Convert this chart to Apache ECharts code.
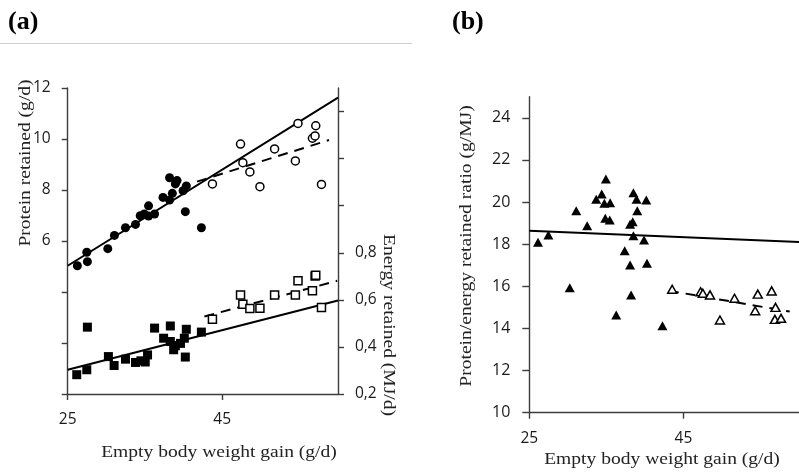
<!DOCTYPE html>
<html>
<head>
<meta charset="utf-8">
<script src="https://cdn.jsdelivr.net/npm/echarts@6/dist/echarts.min.js"></script>
<style>html,body{margin:0;padding:0;background:#fff;}#c{width:799px;height:473px;}</style>
</head>
<body>
<div id="c"></div>
<script>
// ---- Panel (a): protein retained (g/d), left axis ----
const proteinGroup1 = [[26.25,5.03],[27.47,5.56],[27.55,5.19],[30.19,5.70],[31.05,6.22],[32.48,6.52],[33.78,6.65],[34.39,6.99],[34.91,7.06],[35.47,7.38],[35.47,6.98],[36.25,7.06],[37.34,7.71],[38.19,8.48],[38.19,7.61],[38.55,7.87],[38.94,8.24],[39.16,8.37],[39.94,7.97],[40.36,8.16],[40.23,7.15],[42.31,6.52]];
const proteinGroup2 = [[43.74,8.24],[47.38,9.80],[47.68,9.07],[48.59,8.71],[49.89,8.13],[51.79,9.61],[54.48,9.14],[54.82,10.61],[56.69,10.03],[57.03,10.12],[57.12,10.52],[57.86,8.22]];
const proteinFitAll = [[25,5.03],[60,11.62]];
const proteinFitGroup2 = [[41.75,8.33],[58.84,9.96]];
// ---- Panel (a): energy retained (MJ/d), right axis ----
const energyGroup1 = [[26.17,0.282],[27.47,0.303],[27.55,0.484],[30.27,0.359],[31.01,0.321],[32.48,0.348],[33.78,0.334],[34.48,0.341],[35.04,0.336],[35.34,0.366],[36.25,0.480],[37.42,0.437],[38.29,0.489],[38.29,0.423],[38.72,0.388],[38.94,0.405],[39.6,0.415],[40.1,0.437],[40.36,0.475],[40.23,0.357],[42.31,0.463]];
const energyGroup2 = [[43.74,0.518],[47.38,0.621],[47.68,0.581],[48.59,0.563],[49.89,0.564],[51.79,0.621],[54.48,0.621],[54.82,0.681],[56.69,0.639],[57.03,0.701],[57.12,0.705],[57.86,0.567]];
const energyFitAll = [[25,0.303],[60,0.597]];
const energyFitGroup2 = [[42.7,0.529],[59.9,0.681]];
// ---- Panel (b): protein/energy retained ratio (g/MJ) ----
const ratioGroup1 = [[26.13,18.09],[27.48,18.43],[31.09,19.59],[32.51,18.88],[33.68,20.13],[34.4,20.38],[34.94,21.09],[34.74,19.94],[35.49,19.97],[34.86,19.23],[35.44,19.15],[38.51,20.44],[38.92,20.13],[40.18,20.1],[39.01,19.59],[38.42,19.07],[38.08,18.94],[38.51,18.40],[39.89,18.20],[37.38,17.69],[38.08,17.01],[40.27,17.09],[30.25,15.93],[36.28,14.64],[38.21,15.59],[42.28,14.13]];
const ratioGroup2 = [[43.54,15.86],[47.23,15.74],[47.52,15.67],[48.45,15.59],[51.63,15.43],[49.74,14.40],[54.31,14.84],[54.65,15.63],[56.45,15.78],[56.95,15.0],[56.87,14.43],[57.67,14.48]];
const ratioFitAll = [[25,18.64],[60,18.10]];
const ratioFitGroup2 = [[43.11,15.79],[58.8,14.80]];
// ---- Ticks and labels ----
const xTicks = [25,45];
const proteinTicks = [0,2,4,6,8,10,12];
const proteinLabels = [6,8,10,12];
const energyTicks = [0.2,0.4,0.6,0.8,1.0,1.2,1.4];
const energyLabels = [0.2,0.4,0.6,0.8];
const ratioTicks = [10,12,14,16,18,20,22,24];

const AX = '#3c3c3c';
const NUMFONT = 'Open Sans';
const TITLEFONT = '17px "Liberation Serif"';
const SX = 1.15;

function xAxisCfg(grid, margin){
  return {type:'value', gridIndex:grid, min:25, max:60,
    axisLine:{show:true, lineStyle:{color:AX, width:1.4}},
    axisTick:{show:true, length:6, customValues:xTicks, lineStyle:{color:AX, width:1.4}},
    axisLabel:{customValues:xTicks, margin:margin, fontFamily:NUMFONT, fontSize:15.5, color:'#1a1a1a'},
    splitLine:{show:false}};
}

const chart = echarts.init(document.getElementById('c'), null, {renderer:'canvas'});
const line = (data, x, y, dashed) => ({type:'line', xAxisIndex:x, yAxisIndex:y, data:data, symbol:'none', silent:true, z:3,
  lineStyle:{color:'#000', width:2, type: dashed ? [10,7] : 'solid'}});
const pts = (data, x, y, symbol, size, filled) => ({type:'scatter', xAxisIndex:x, yAxisIndex:y, data:data, symbol:symbol, symbolSize:size, z:4,
  itemStyle: filled ? {color:'#000', opacity:1} : {color:'#fff', borderColor:'#000', borderWidth:1.5, opacity:1}});
const title = (text, x, y, rot) => ({type:'text', x:x, y:y, rotation:rot, scaleX:SX,
  style:{text:text, font:TITLEFONT, fill:'#222', align:'center', verticalAlign:'middle'}});

chart.setOption({
  animation:false,
  backgroundColor:'#fff',
  grid:[
    {left:67.7, top:88, width:270.3, height:306},
    {left:529.3, top:96.7, width:278.3, height:316}
  ],
  xAxis:[ xAxisCfg(0,18), xAxisCfg(1,18) ],
  yAxis:[
    {type:'value', gridIndex:0, position:'left', min:0, max:12,
      axisLine:{show:true, lineStyle:{color:AX, width:1.4}},
      axisTick:{show:true, length:6, customValues:proteinTicks, lineStyle:{color:AX, width:1.4}},
      axisLabel:{customValues:proteinLabels, margin:17, fontFamily:NUMFONT, fontSize:15.5, color:'#1a1a1a'},
      splitLine:{show:false}},
    {type:'value', gridIndex:0, position:'right', min:0.2, max:1.5,
      axisLine:{show:true, lineStyle:{color:AX, width:1.4}},
      axisTick:{show:true, length:6, customValues:energyTicks, lineStyle:{color:AX, width:1.4}},
      axisLabel:{customValues:energyLabels, margin:17, fontFamily:NUMFONT, fontSize:15.5, color:'#1a1a1a',
        formatter:v => v.toFixed(1).replace('.', ',')},
      splitLine:{show:false}},
    {type:'value', gridIndex:1, position:'left', min:10, max:25,
      axisLine:{show:true, lineStyle:{color:AX, width:1.4}},
      axisTick:{show:true, length:7, customValues:ratioTicks, lineStyle:{color:AX, width:1.4}},
      axisLabel:{customValues:ratioTicks, margin:19, fontFamily:NUMFONT, fontSize:16, color:'#1a1a1a'},
      splitLine:{show:false}}
  ],
  graphic:[
    {type:'text', x:8, y:22, style:{text:'(a)', font:'bold 26px "Liberation Serif"', fill:'#000', verticalAlign:'middle'}},
    {type:'text', x:452, y:22, style:{text:'(b)', font:'bold 26px "Liberation Serif"', fill:'#000', verticalAlign:'middle'}},
    {type:'line', shape:{x1:0, y1:43.5, x2:412, y2:43.5}, style:{stroke:'#cfcfcf', lineWidth:1}},
    title('Protein retained (g/d)', 26, 163, Math.PI/2),
    title('Energy retained (MJ/d)', 388, 325, -Math.PI/2),
    title('Empty body weight gain (g/d)', 219, 453, 0),
    title('Protein/energy retained ratio (g/MJ)', 467, 246, Math.PI/2),
    title('Empty body weight gain (g/d)', 662, 460, 0)
  ],
  series:[
    pts(proteinGroup1,0,0,'circle',9,true),
    pts(proteinGroup2,0,0,'circle',8,false),
    line(proteinFitAll,0,0,false),
    line(proteinFitGroup2,0,0,true),
    pts(energyGroup1,0,1,'rect',9,true),
    pts(energyGroup2,0,1,'rect',8,false),
    line(energyFitAll,0,1,false),
    line(energyFitGroup2,0,1,true),
    pts(ratioGroup1,1,2,'triangle',[10,9],true),
    pts(ratioGroup2,1,2,'triangle',[9,8],false),
    line(ratioFitAll,1,2,false),
    line(ratioFitGroup2,1,2,true)
  ]
});
</script>
</body>
</html>
